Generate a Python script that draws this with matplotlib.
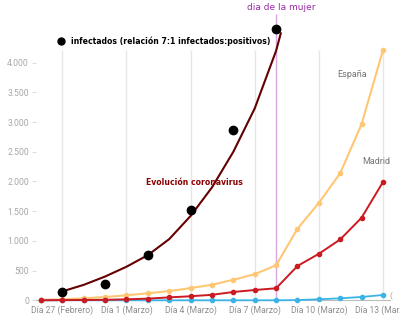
import matplotlib
matplotlib.use("Agg")
import matplotlib.pyplot as plt
from matplotlib.ticker import FuncFormatter

# dias desde el 26 de febrero hasta el 13 de marzo
fechas = ["26/02", "27/02", "28/02", "29/02", "01/03", "02/03", "03/03", "04/03", "05/03",
          "06/03", "07/03", "08/03", "09/03", "10/03", "11/03", "12/03", "13/03"]
espana = [8, 17, 33, 55, 84, 118, 155, 205, 262, 345, 440, 589, 1204, 1639, 2140, 2965, 4209]
madrid = [0, 3, 5, 8, 16, 28, 49, 68, 92, 140, 173, 202, 577, 782, 1024, 1390, 1990]
otra = [0, 0, 0, 0, 0, 0, 0, 0, 0, 0, 0, 0, 3, 17, 33, 56, 89]

# infectados estimados (relacion 7:1)
infect_dia = ["27/02", "29/02", "02/03", "04/03", "06/03", "08/03"]
infectados = [135, 269, 768, 1525, 2866, 4566]

# curva "Evolucion coronavirus"
tend_dia = [1, 2, 3, 4, 5, 6, 7, 8, 9, 10, 11, 11.22]
tendencia = [150, 260, 400, 565, 760, 1030, 1420, 1900, 2500, 3230, 4200, 4494]

tick_fechas = ["27/02", "01/03", "04/03", "07/03", "10/03", "13/03"]
tick_labels = ["Día 27 (Febrero)", "Día 1 (Marzo)", "Día 4 (Marzo)", "Día 7 (Marzo)",
               "Día 10 (Marzo)", "Día 13 (Marzo)"]
dia_mujer = "08/03"

x = list(range(len(fechas)))
ticks = [fechas.index(f) for f in tick_fechas]

fig = plt.figure(figsize=(4, 3.28), dpi=100)
ax = fig.add_axes([0.09, 0.0845, 0.885, 0.888])

ax.vlines(ticks, 0, max(espana), color="#e6e6e6", lw=1, zorder=0)
ax.vlines(fechas.index(dia_mujer), 0, 4820, color="#d9a8e2", lw=1, zorder=1)

ax.plot(x, espana, color="#ffc773", lw=1.5, marker="o", ms=3, zorder=3, clip_on=False)
ax.plot(x, otra, color="#3ab4e6", lw=1.3, marker="o", ms=3, zorder=3.5, clip_on=False)
ax.plot(x, madrid, color="#cc1a22", lw=1.4, marker="o", ms=3, zorder=4, clip_on=False)

ax.plot(tend_dia, tendencia, color="#640000", lw=1.5, zorder=5, clip_on=False)
ax.plot([fechas.index(f) for f in infect_dia], infectados, "o", color="black", ms=6,
        zorder=6, clip_on=False)

ax.set_xlim(-0.234, 16.33)
ax.set_ylim(0, 4903)
ax.set_xticks(ticks)
ax.set_xticklabels(tick_labels)
ax.set_yticks(range(0, 4001, 500))
ax.yaxis.set_major_formatter(FuncFormatter(lambda v, p: f"{int(v):,}".replace(",", ".")))
ax.tick_params(axis="x", length=0, pad=4, labelsize=6.2, labelcolor="#8e8e8e")
ax.tick_params(axis="y", length=3, width=0.8, color="#dddddd", pad=2, labelsize=6.2,
               labelcolor="#a8a8a8")
for lab in ax.get_xticklabels() + ax.get_yticklabels():
    lab.set_family("Roboto")
for s in ["top", "right", "left"]:
    ax.spines[s].set_visible(False)
ax.spines["bottom"].set_color("#bdbdbd")
ax.spines["bottom"].set_linewidth(0.8)

# textos
comic = "DejaVu Sans"
fig.text(281 / 400, 1 - 8 / 328, "dia de la mujer", color="#9b2aa8", fontsize=6.5,
         family=comic, ha="center", va="center")
ax.plot([61 / 400], [1 - 41 / 328], "o", color="black", ms=5, transform=fig.transFigure,
        clip_on=False)
fig.text(71 / 400, 1 - 41 / 328, "infectados (relación 7:1 infectados:positivos)",
         color="black", fontsize=5.6, family=comic, weight="bold", va="center")
fig.text(146 / 400, 1 - 182 / 328, "Evolución coronavirus", color="#8b0000", fontsize=5.6,
         family=comic, weight="bold", va="center")
fig.text(337 / 400, 1 - 74 / 328, "España", color="#757575", fontsize=6.5, family="Roboto",
         va="center")
fig.text(362 / 400, 1 - 162 / 328, "Madrid", color="#757575", fontsize=6.5, family="Roboto",
         va="center")
fig.text(389 / 400, 1 - 296 / 328, "(", color="#9e9e9e", fontsize=6, family="Roboto",
         va="center")

fig.savefig("out.png", dpi=100)
